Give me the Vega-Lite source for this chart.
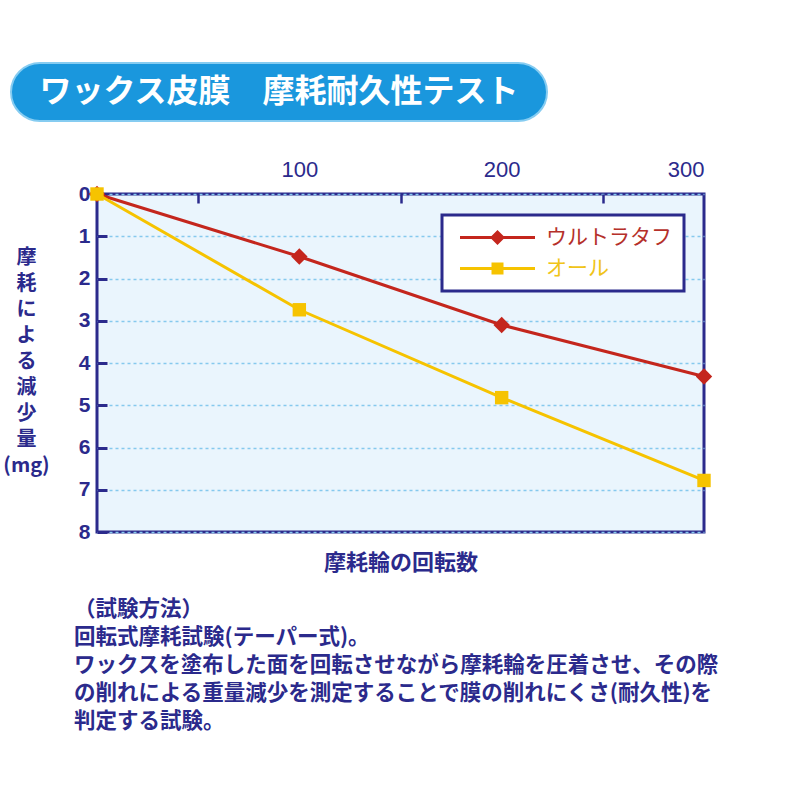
{
  "$schema": "https://vega.github.io/schema/vega-lite/v6.json",
  "padding": {"left": 1, "top": 62, "right": 5, "bottom": 5},
  "background": "white",
  "config": {"view": {"stroke": null}},
  "spacing": 34,
  "vconcat": [
    {
      "width": 536,
      "height": 58,
      "data": {"values": [{"title": "ワックス皮膜　摩耗耐久性テスト"}]},
      "layer": [
        {
          "mark": {"type": "rect", "fill": "#1a97dd", "cornerRadius": 29, "stroke": "#86ccf1", "strokeWidth": 2},
          "encoding": {}
        },
        {
          "mark": {"type": "text", "color": "white", "font": "Noto Sans CJK JP", "fontWeight": "bold", "fontSize": 32, "align": "center", "baseline": "middle"},
          "encoding": {"text": {"field": "title"}}
        }
      ]
    },
    {
      "bounds": "flush",
      "spacing": 85,
      "hconcat": [
        {
          "width": 1,
          "height": 338,
          "data": {"values": [{"t": ""}]},
          "mark": {"type": "text"},
          "encoding": {"text": {"field": "t"}}
        },
        {
          "width": 607,
          "height": 338,
          "view": {"stroke": "#2b2a8c", "strokeWidth": 3, "fill": "#eaf5fd"},
          "data": {
            "values": [
              {"series": "ウルトラタフ", "grp": "ウルトラタフ", "rev": 0, "mg": 0},
              {"series": "ウルトラタフ", "grp": "ウルトラタフ", "rev": 100, "mg": 1.48},
              {"series": "ウルトラタフ", "grp": "ウルトラタフ", "rev": 200, "mg": 3.1},
              {"series": "ウルトラタフ", "grp": "ウルトラタフ", "rev": 300, "mg": 4.32},
              {"series": "オール", "grp": "オール", "rev": 0, "mg": 0},
              {"series": "オール", "grp": "オール", "rev": 100, "mg": 2.74},
              {"series": "オール", "grp": "オール", "rev": 200, "mg": 4.82},
              {"series": "オール", "grp": "オール", "rev": 300, "mg": 6.78}
            ]
          },
          "title": {
            "text": ["（試験方法）", "回転式摩耗試験(テーパー式)。", "ワックスを塗布した面を回転させながら摩耗輪を圧着させ、その際", "の削れによる重量減少を測定することで膜の削れにくさ(耐久性)を", "判定する試験。"],
            "orient": "bottom", "anchor": "start", "frame": "group", "dx": -23, "offset": 26,
            "fontSize": 21.5, "lineHeight": 28, "font": "Noto Sans CJK JP", "fontWeight": "bold",
            "color": "#2b2a8c", "baseline": "top"
          },
          "layer": [
            {
              "mark": {"type": "line", "strokeWidth": 3, "clip": false},
              "encoding": {
                "x": {
                  "field": "rev", "type": "quantitative",
                  "scale": {"domain": [0, 300], "nice": false, "zero": false},
                  "axis": {
                    "orient": "top", "title": null, "values": [50, 100, 150, 200, 250, 300],
                    "labelExpr": "datum.value % 100 === 0 ? datum.label : ''",
                    "labelFont": "Liberation Sans", "labelFontSize": 22, "labelColor": "#2b2a8c",
                    "labelPadding": 22, "domain": false, "grid": false,
                    "tickSize": -9, "tickWidth": 2.5,
                    "tickColor": {"condition": {"test": "datum.value % 100 === 0", "value": "transparent"}, "value": "#2b2a8c"}
                  }
                },
                "y": {
                  "field": "mg", "type": "quantitative",
                  "scale": {"domain": [0, 8], "reverse": true, "nice": false},
                  "axis": {
                    "orient": "left", "values": [0, 1, 2, 3, 4, 5, 6, 7, 8],
                    "title": ["摩", "耗", "に", "よ", "る", "減", "少", "量", "(mg)"],
                    "titleAngle": 0, "titleAlign": "center", "titleBaseline": "middle",
                    "titleX": -71, "titleY": 63, "titleLineHeight": 26,
                    "titleFont": "Noto Sans CJK JP", "titleFontSize": 20, "titleFontWeight": "bold", "titleColor": "#2b2a8c",
                    "labelFont": "Liberation Sans", "labelFontSize": 21, "labelFontWeight": "bold", "labelColor": "#2b2a8c",
                    "labelPadding": 17, "domain": false,
                    "tickSize": -10, "tickWidth": 3, "tickColor": "#2b2a8c",
                    "grid": true, "gridColor": "#86c9ee", "gridDash": [3, 3], "gridWidth": 1.5
                  }
                },
                "color": {
                  "field": "series", "type": "nominal",
                  "scale": {"domain": ["ウルトラタフ", "オール"], "range": ["#c4261d", "#f6c300"]},
                  "legend": null
                }
              }
            },
            {
              "mark": {"type": "point", "filled": true, "opacity": 1, "clip": false, "strokeWidth": 0},
              "encoding": {
                "x": {
                  "field": "rev", "type": "quantitative",
                  "axis": {
                    "orient": "bottom", "labels": false, "ticks": false, "domain": false, "grid": false,
                    "title": "摩耗輪の回転数", "titleFont": "Noto Sans CJK JP", "titleFontSize": 22,
                    "titleFontWeight": "bold", "titleColor": "#2b2a8c", "titlePadding": 20
                  }
                },
                "y": {"field": "mg", "type": "quantitative"},
                "fill": {
                  "field": "grp", "type": "nominal",
                  "scale": {"domain": ["ウルトラタフ", "オール"], "range": ["#c4261d", "#f6c300"]},
                  "legend": null
                },
                "shape": {
                  "field": "grp", "type": "nominal",
                  "scale": {"domain": ["ウルトラタフ", "オール"], "range": ["diamond", "square"]},
                  "legend": null
                },
                "size": {
                  "field": "grp", "type": "nominal",
                  "scale": {"domain": ["ウルトラタフ", "オール"], "range": [270, 180]},
                  "legend": null
                }
              }
            },
            {
              "transform": [{"filter": "datum.rev < 0"}],
              "mark": {"type": "point", "filled": true, "opacity": 1, "clip": false, "strokeWidth": 0},
              "encoding": {
                "x": {"field": "rev", "type": "quantitative", "axis": null},
                "y": {"field": "mg", "type": "quantitative"},
                "fill": {
                  "field": "series", "type": "nominal",
                  "scale": {"domain": ["ウルトラタフ", "オール"], "range": ["#c4261d", "#f6c300"]},
                  "legend": {
                    "orient": "none", "legendX": 345, "legendY": 21, "title": null,
                    "fillColor": "white", "strokeColor": "#2b2a8c", "padding": 12,
                    "labelFont": "Noto Sans CJK JP", "labelFontSize": 21, "labelLimit": 300,
                    "labelColor": {"expr": "datum.value === 'ウルトラタフ' ? '#b5302a' : '#f0c419'"},
                    "symbolSize": 225, "symbolOffset": 33, "labelOffset": 38, "rowPadding": 9,
                    "symbolOpacity": 1,
                    "encode": {
                      "legend": {"update": {"strokeWidth": {"value": 3}}}
                    }
                  }
                },
                "shape": {
                  "field": "series", "type": "nominal",
                  "scale": {
                    "domain": ["ウルトラタフ", "オール"],
                    "range": [
                      "M-5,-0.2L5,-0.2L5,0.2L-5,0.2ZM0,-1L1,0L0,1L-1,0Z",
                      "M-5,-0.2L5,-0.2L5,0.2L-5,0.2ZM-0.8,-0.8L0.8,-0.8L0.8,0.8L-0.8,0.8Z"
                    ]
                  },
                  "legend": {
                    "orient": "none", "legendX": 345, "legendY": 21, "title": null,
                    "fillColor": "white", "strokeColor": "#2b2a8c", "padding": 12,
                    "labelFont": "Noto Sans CJK JP", "labelFontSize": 21, "labelLimit": 300,
                    "labelColor": {"expr": "datum.value === 'ウルトラタフ' ? '#b5302a' : '#f0c419'"},
                    "symbolSize": 225, "symbolOffset": 33, "labelOffset": 38, "rowPadding": 9,
                    "symbolOpacity": 1,
                    "encode": {
                      "legend": {"update": {"strokeWidth": {"value": 3}}},
                      "labels": {"update": {"fill": {"signal": "datum.value === 'ウルトラタフ' ? '#b5302a' : '#f0c419'"}}}
                    }
                  }
                }
              }
            }
          ],
          "resolve": {
            "axis": {"x": "independent"},
            "scale": {"shape": "independent", "fill": "independent"}
          }
        }
      ]
    }
  ]
}
